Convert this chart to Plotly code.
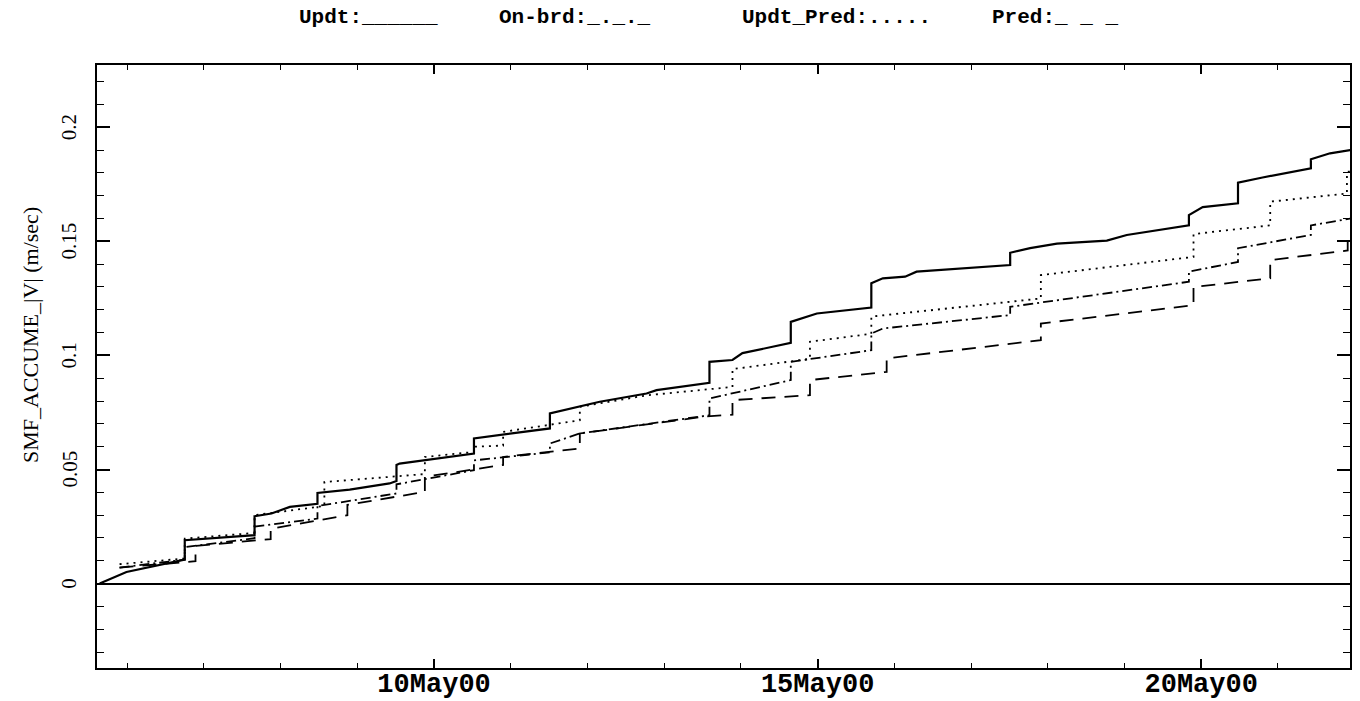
import plotly.graph_objects as go
import pandas as pd

# ---- data (day of May 2000, fractional) ----
updt_day = [5.641, 5.99, 6.75, 6.75, 7.66, 7.66, 7.88, 8.12, 8.48, 8.48, 8.90, 9.42, 9.51, 9.51, 9.55,
            10.52, 10.52, 10.85, 11.51, 11.51, 11.90, 12.16, 12.77, 12.90, 13.59, 13.59, 13.89, 14.02,
            14.65, 14.65, 14.99, 15.70, 15.70, 15.85, 16.14, 16.29, 17.51, 17.51, 17.77, 18.12, 18.77,
            19.03, 19.84, 19.84, 20.02, 20.48, 20.48, 20.80, 21.43, 21.43, 21.68, 21.95]
updt_val = [0.0, 0.0051, 0.0105, 0.019, 0.0212, 0.0295, 0.0307, 0.0336, 0.035, 0.0397, 0.0412, 0.0439,
            0.045, 0.052, 0.0526, 0.057, 0.0636, 0.065, 0.068, 0.0746, 0.0775, 0.0797, 0.0833, 0.0848,
            0.088, 0.0972, 0.098, 0.101, 0.1055, 0.1147, 0.1184, 0.121, 0.1316, 0.1338, 0.1345, 0.1367,
            0.1396, 0.145, 0.147, 0.149, 0.1503, 0.1528, 0.157, 0.1615, 0.165, 0.1667, 0.1757, 0.178,
            0.182, 0.186, 0.1886, 0.19]

onbrd_day = [5.90, 6.75, 6.75, 7.66, 7.66, 8.48, 8.48, 9.51, 9.51, 10.52, 10.52, 11.51, 11.51, 11.90,
             13.59, 13.59, 14.65, 14.65, 15.70, 15.70, 15.85, 17.51, 17.51, 19.84, 19.84, 20.48, 20.48,
             21.43, 21.43, 21.95]
onbrd_val = [0.007, 0.0105, 0.016, 0.0199, 0.025, 0.0285, 0.034, 0.0395, 0.0435, 0.0497, 0.054, 0.0575,
             0.0614, 0.0658, 0.0738, 0.0811, 0.0892, 0.0972, 0.1023, 0.1096, 0.1118, 0.1177, 0.1213,
             0.1323, 0.1367, 0.141, 0.147, 0.1528, 0.157, 0.16]

updtpred_day = [5.90, 6.75, 6.75, 7.66, 7.66, 8.57, 8.57, 9.88, 9.88, 10.52, 10.52, 10.90, 10.90, 11.51,
                11.90, 11.90, 12.77, 13.89, 13.89, 14.90, 14.90, 15.70, 15.70, 17.91, 17.91, 19.90,
                19.90, 20.90, 20.90, 21.90, 21.90, 21.95]
updtpred_val = [0.0085, 0.011, 0.0197, 0.0222, 0.030, 0.034, 0.0445, 0.048, 0.0555, 0.0577, 0.060, 0.0605,
                0.0665, 0.0695, 0.0716, 0.0775, 0.0825, 0.0862, 0.094, 0.0985, 0.106, 0.1095, 0.117,
                0.125, 0.1352, 0.1432, 0.1532, 0.157, 0.1674, 0.171, 0.1805, 0.1805]

pred_day = [5.90, 6.89, 6.89, 7.87, 7.87, 8.87, 8.87, 9.88, 9.88, 10.90, 10.90, 11.90, 11.90, 13.55,
            13.89, 13.89, 14.90, 14.90, 15.90, 15.90, 17.91, 17.91, 19.90, 19.90, 20.90, 20.90, 21.91,
            21.91, 21.95]
pred_val = [0.007, 0.0098, 0.0165, 0.0195, 0.024, 0.030, 0.0345, 0.0402, 0.0468, 0.052, 0.0555, 0.0592,
            0.0658, 0.0733, 0.074, 0.0804, 0.0826, 0.0892, 0.0928, 0.0987, 0.1067, 0.114, 0.122, 0.130,
            0.1338, 0.1418, 0.146, 0.1528, 0.1528]

legend_labels = ["Updt:______", "On-brd:_._._", "Updt_Pred:.....", "Pred:_ _ _"]
y_tick_vals = [0, 0.05, 0.1, 0.15, 0.2]
y_tick_text = ["0", "0.05", "0.1", "0.15", "0.2"]
x_range_days = [5.606, 21.94]
y_range = [-0.037, 0.2273]
y_title = "SMF_ACCUME_|V| (m/sec)"

BASE = pd.Timestamp("2000-05-01")


def to_dt(days):
    return [BASE + pd.Timedelta(days=d - 1) for d in days]


fig = go.Figure()
series = [
    (updt_day, updt_val, dict(color="black", width=2.2, dash="solid")),
    (onbrd_day, onbrd_val, dict(color="black", width=1.8, dash="10px,4px,2px,4px")),
    (updtpred_day, updtpred_val, dict(color="black", width=1.8, dash="2px,5px")),
    (pred_day, pred_val, dict(color="black", width=1.8, dash="14px,9px")),
]
for d, v, ln in series:
    fig.add_trace(go.Scatter(x=to_dt(d), y=v, mode="lines", line=ln, showlegend=False,
                             hoverinfo="skip"))

mono = "Liberation Mono"
serif = "Liberation Serif"

fig.update_layout(
    width=1360, height=701,
    margin=dict(l=97, r=10, t=65, b=33),
    paper_bgcolor="white", plot_bgcolor="white",
    showlegend=False,
)

fig.update_xaxes(
    type="date", automargin=False,
    range=to_dt(x_range_days),
    showgrid=False, zeroline=False,
    showline=True, linecolor="black", linewidth=2, mirror="ticks",
    ticks="inside", ticklen=9, tickwidth=1.5, tickcolor="black",
    tick0="2000-05-10", dtick=5 * 86400000,
    tickformat="%d%b%y", ticklabelstandoff=-10,
    tickfont=dict(family=mono, size=27, color="black", weight="bold"),
    minor=dict(ticks="inside", ticklen=5, tickwidth=1.2, tickcolor="black",
               dtick=86400000, tick0="2000-05-10", showgrid=False),
)

fig.update_yaxes(
    range=y_range, automargin=False,
    showgrid=False,
    zeroline=True, zerolinecolor="black", zerolinewidth=1.5,
    showline=True, linecolor="black", linewidth=2, mirror="ticks",
    ticks="inside", ticklen=13, tickwidth=1.5, tickcolor="black",
    tick0=0, dtick=0.05, showticklabels=False,
    minor=dict(ticks="inside", ticklen=7, tickwidth=1.2, tickcolor="black",
               dtick=0.01, tick0=0, showgrid=False),
)

# rotated y tick labels
for v, t in zip(y_tick_vals, y_tick_text):
    fig.add_annotation(text=t, xref="paper", yref="y", x=-0.0223, y=v,
                       xanchor="center", yanchor="middle", textangle=-90, showarrow=False,
                       font=dict(family=serif, size=21, color="black"))

# y axis title
fig.add_annotation(text=y_title, xref="paper", yref="paper", x=-0.0535, y=0.552,
                   xanchor="center", yanchor="middle", textangle=-90, showarrow=False,
                   font=dict(family=serif, size=22, color="black"))

legend_x = [0.1596, 0.3192, 0.5132, 0.7127]
for lab, xp in zip(legend_labels, legend_x):
    fig.add_annotation(text=lab, xref="paper", yref="paper", x=xp, y=1.0796,
                       xanchor="left", yanchor="middle", showarrow=False,
                       font=dict(family=mono, size=21, color="black", weight="bold"))

fig.write_html("out.html")
